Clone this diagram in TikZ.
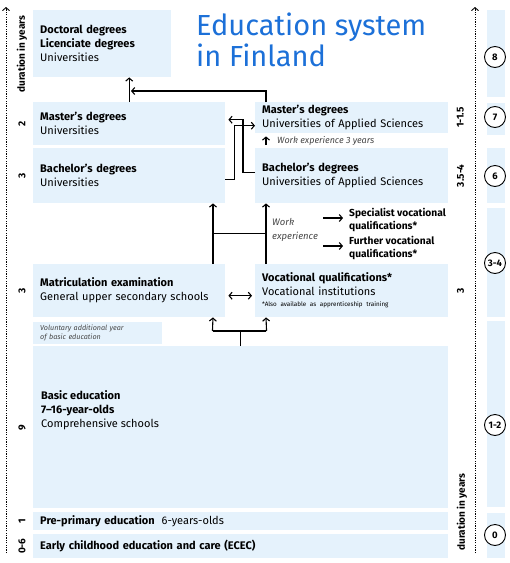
\documentclass[tikz,border=0pt]{standalone}
\usepackage{fontspec}
\setmainfont{Fira Sans}
\usetikzlibrary{arrows.meta,positioning,calc}
\definecolor{eduFill}{RGB}{229,242,252}
\definecolor{eduTitle}{RGB}{28,112,216}
\definecolor{eduGray}{RGB}{70,70,70}

\begin{document}
\begin{tikzpicture}[
    x=1pt, y=-1pt,
    font=\fontsize{11}{14}\selectfont,
    edubox/.style={fill=eduFill,anchor=north west,inner xsep=7pt,inner ysep=0pt,align=left},
    dur/.style={rotate=90,inner sep=0pt,font=\fontsize{10}{10}\selectfont\bfseries},
    yrs/.style={draw,circle,fill=white,line width=0.9pt,inner sep=1pt,minimum size=21pt,font=\fontsize{9.5}{10}\selectfont\bfseries},
    note/.style={anchor=west,inner sep=0pt,text=eduGray,font=\fontsize{9}{10}\selectfont\itshape},
    ar/.style={-{Straight Barb[length=3pt,width=7pt]},line width=1.1pt},
    arr/.style={{Straight Barb[length=3pt,width=7pt]}-{Straight Barb[length=3pt,width=7pt]},line width=1.1pt},
    ln/.style={line width=1.1pt},
    axis/.style={-{Straight Barb[length=3pt,width=7pt]},line width=0.9pt,dash pattern=on 1.2pt off 1.2pt},
  ]
  \useasboundingbox (0,0) rectangle (510,563);

  % title
  \node[anchor=north west,align=left,inner sep=0pt,text=eduTitle,font=\fontsize{29}{31}\selectfont] (title) at (196,13) {Education system\\in Finland};

  % universities
  \node[edubox,text width=124pt,minimum height=67pt] (doc) at (33,10) {\textbf{Doctoral degrees}\\\textbf{Licenciate degrees}\\Universities};
  \node[edubox,text width=178pt,minimum height=43pt] (masU) at (33,102) {\textbf{Master’s degrees}\\Universities};
  \node[edubox,text width=178pt,minimum height=55pt] (bacU) at (33,148) {\textbf{Bachelor’s degrees}\\Universities};

  % universities of applied sciences
  \node[edubox,text width=179pt,minimum height=31pt] (masUAS) at (255,102) {\textbf{Master’s degrees}\\Universities of Applied Sciences};
  \node[edubox,text width=179pt,minimum height=55pt] (bacUAS) at (255,148) {\textbf{Bachelor’s degrees}\\Universities of Applied Sciences};

  % upper secondary
  \node[edubox,text width=178pt,minimum height=53pt] (matric) at (33,264) {\textbf{Matriculation examination}\\General upper secondary schools};
  \node[edubox,text width=179pt,minimum height=53pt] (voc) at (255,264) {\textbf{Vocational qualifications*}\\Vocational institutions\\[-3pt]{\fontsize{6.3}{8}\selectfont *Also available as apprenticeship training}};
  \node[edubox,text width=115pt,minimum height=22pt,text=eduGray,font=\fontsize{7.2}{9}\selectfont\itshape] (vol) at (33,322) {Voluntary additional year\\of basic education};

  % basic level
  \node[edubox,minimum width=415pt,minimum height=162pt] (basic) at (33,346) {};
  \node[anchor=west,align=left,inner sep=0pt] (basictxt) at (41,410) {\textbf{Basic education}\\\textbf{7–16-year-olds}\\Comprehensive schools};
  \node[edubox,text width=401pt,minimum height=18pt] (pre) at (33,512) {\textbf{Pre-primary education}\hspace{7pt}6-years-olds};
  \node[edubox,text width=401pt,minimum height=24pt] (ecec) at (33,534) {\textbf{Early childhood education and care (ECEC)}};

  % work experience
  \node[note] (wexp3) at (277,141) {Work experience 3 years};
  \node[note,align=left,font=\fontsize{9.5}{14.5}\selectfont\itshape] (wexp) at (272,230) {Work\\experience};
  \node[anchor=west,align=left,inner sep=0pt,font=\fontsize{10.2}{12.5}\selectfont\bfseries] (spec) at (349,220) {Specialist vocational\\qualifications*};
  \node[anchor=west,align=left,inner sep=0pt,font=\fontsize{10.2}{12.5}\selectfont\bfseries] (further) at (349,248) {Further vocational\\qualifications*};

  % duration axes
  \draw[axis] (6,553) -- (6,7);
  \draw[axis] (475,553) -- (475,7);
  \node[dur] (durL) at (22,54) {duration in years};
  \node[dur] (durR) at (462,512) {duration in years};
  \node[dur] at ([xshift=-11pt]masU.west) {2};
  \node[dur] at ([xshift=-11pt]bacU.west) {3};
  \node[dur] at ([xshift=-11pt]matric.west) {3};
  \node[dur] at ([xshift=-11pt]basic.west) {9};
  \node[dur] at ([xshift=-11pt]pre.west) {1};
  \node[dur] at ([xshift=-11pt]ecec.west) {0-6};
  \node[dur] at ([xshift=12pt]masUAS.east) {1-1.5};
  \node[dur] at ([xshift=12pt]bacUAS.east) {3.5-4};
  \node[dur] at ([xshift=12pt]voc.east) {3};

  % right strip
  \fill[eduFill] (487,10) rectangle (505,97);
  \fill[eduFill] (487,103) rectangle (505,135);
  \fill[eduFill] (487,148) rectangle (505,203);
  \fill[eduFill] (487,208) rectangle (505,317);
  \fill[eduFill] (487,321) rectangle (505,507);
  \fill[eduFill] (487,513) rectangle (505,530);
  \fill[eduFill] (487,534) rectangle (505,558);
  \node[yrs] (c8) at (495,57) {8};
  \node[yrs] (c7) at (495,117) {7};
  \node[yrs] (c6) at (495,176) {6};
  \node[yrs] (c34) at (495,263) {3-4};
  \node[yrs] (c12) at (495,425) {1-2};
  \node[yrs] (c0) at (495,535) {0};

  % connectors
  \coordinate (lx) at (213,0);
  \coordinate (rx) at (266,0);
  \coordinate (junction) at (131,91);
  \draw[ar] (masU.north) -- (masU.north |- doc.south);
  \draw[ar] (masUAS.north -| rx) |- (junction);
  \draw[ar] ([yshift=-4pt]bacU.east) -- ++(9,0) |- ([yshift=-8pt]masUAS.west);
  \draw[ar] ([yshift=3pt]bacUAS.west) -- ++(-12,0) |- ([yshift=4pt,xshift=3pt]masU.east);
  \draw[ar,shorten <=3pt,shorten >=3pt] (bacUAS.north -| rx) -- (masUAS.south -| rx);

  \draw[ar] (matric.north -| lx) -- (bacU.south -| lx);
  \draw[ar] (voc.north -| rx) -- (bacUAS.south -| rx);
  \draw[ln] ($(matric.north -| lx)!0.5!(bacU.south -| lx)$) -- ($(voc.north -| rx)!0.5!(bacUAS.south -| rx)$);
  \draw[ar] ([xshift=-26pt,yshift=2pt]spec.west) -- ([xshift=-6pt,yshift=2pt]spec.west);
  \draw[ar] ([xshift=-26pt,yshift=2pt]further.west) -- ([xshift=-6pt,yshift=2pt]further.west);

  \draw[arr] ([xshift=3pt,yshift=-5pt]matric.east) -- ([xshift=-3pt,yshift=-5pt]voc.west);

  \draw[ln] (basic.north) -- ++(0,-15) coordinate (fork);
  \draw[ln] (fork -| lx) -- (fork -| rx);
  \draw[ar] ([xshift=-0.55pt]fork -| lx) -- (matric.south -| lx);
  \draw[ar] ([xshift=0.55pt]fork -| rx) -- (voc.south -| rx);
\end{tikzpicture}
\end{document}
